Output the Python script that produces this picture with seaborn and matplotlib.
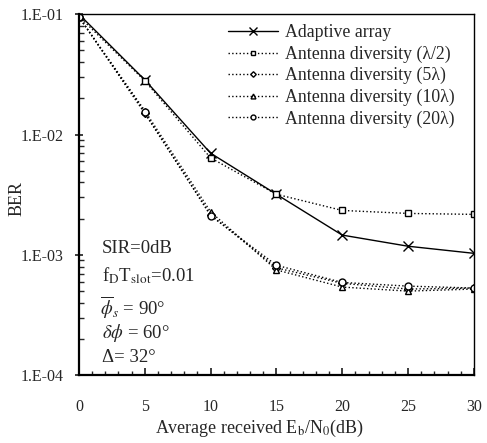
import numpy as np
import pandas as pd
import matplotlib
matplotlib.use("Agg")
import matplotlib.pyplot as plt
import seaborn as sns
from matplotlib.ticker import LogLocator, FixedLocator, MultipleLocator, FuncFormatter

# values
snr_db = [0, 5, 10, 15, 20, 25, 30]
adaptive = [0.1, 0.0285, 0.0070, 0.00319, 0.00146, 0.00118, 0.00103]
div_half = [0.096, 0.0280, 0.00640, 0.00319, 0.00234, 0.00221, 0.00217]
div_5 = [0.095, 0.0150, 0.00215, 0.00078, 0.00058, 0.00052, 0.00053]
div_10 = [0.095, 0.0158, 0.00228, 0.00075, 0.00054, 0.00050, 0.00052]
div_20 = [0.095, 0.0153, 0.00212, 0.00082, 0.00059, 0.00055, 0.00053]

series_names = ["Adaptive array", "Antenna diversity (λ/2)", "Antenna diversity (5λ)",
                "Antenna diversity (10λ)", "Antenna diversity (20λ)"]
series_values = [adaptive, div_half, div_5, div_10, div_20]

df = pd.DataFrame({
    "snr": snr_db * len(series_names),
    "ber": sum(series_values, []),
    "scheme": np.repeat(series_names, len(snr_db)),
})

sns.set_theme(style="ticks")
plt.rcParams["font.family"] = ["Liberation Serif", "DejaVu Serif"]
plt.rcParams["mathtext.fontset"] = "stix"

fig = plt.figure(figsize=(4.87, 4.43), dpi=100)
ax = fig.add_axes([0.162, 0.153, 0.811, 0.815])

styles = {
    series_names[0]: dict(ls="-", marker="x", ms=7.5),
    series_names[1]: dict(ls=":", marker="s", ms=5),
    series_names[2]: dict(ls=":", marker="D", ms=4),
    series_names[3]: dict(ls=":", marker="^", ms=5),
    series_names[4]: dict(ls=":", marker="o", ms=5),
}
for name in series_names:
    sub = df[df["scheme"] == name]
    st = styles[name]
    sns.lineplot(data=sub, x="snr", y="ber", ax=ax, color="black", lw=1.0,
                 linestyle=st["ls"], marker=st["marker"], markersize=st["ms"],
                 markerfacecolor="white", markeredgecolor="black", markeredgewidth=1.0,
                 label=name)

ax.set_yscale("log")
ax.set_ylim(1e-4, 1e-1)
ax.set_xlim(0, 30)
ax.xaxis.set_major_locator(MultipleLocator(5))
ax.xaxis.set_minor_locator(MultipleLocator(1))
ax.yaxis.set_major_locator(FixedLocator([1e-4, 1e-3, 1e-2, 1e-1]))
ax.yaxis.set_minor_locator(LogLocator(base=10, subs=np.arange(2, 10)))
ax.yaxis.set_major_formatter(FuncFormatter(lambda v, p: "1.E-%02d" % round(-np.log10(v))))
ax.tick_params(axis="y", which="major", direction="inout", length=6, labelsize=11.5, pad=8)
ax.tick_params(axis="y", which="minor", direction="in", length=3.5)
ax.tick_params(axis="x", which="major", direction="in", length=5, labelsize=11.5, pad=17)
ax.tick_params(axis="x", which="minor", direction="in", length=3)
for s in ax.spines.values():
    s.set_linewidth(1.0)
    s.set_color("black")
ax.spines["left"].set_linewidth(1.6)
ax.spines["bottom"].set_linewidth(1.6)

ax.set_xlabel("Average received E$_\\mathrm{b}$/N$_0$(dB)", fontsize=13)
ax.xaxis.set_label_coords(0.457, -0.117)
ax.set_ylabel("BER", fontsize=13)
ax.yaxis.set_label_coords(-0.134, 0.49)

ax.legend(loc="upper left", bbox_to_anchor=(0.368, 0.982), frameon=False, fontsize=12.8,
          handlelength=2.8, handletextpad=0.39, labelspacing=0.24, borderaxespad=0,
          borderpad=0.2, markerscale=0.7)

ax.text(1.75, 1.135e-3, "SIR=0dB", fontsize=13.5, va="center")
ax.text(1.75, 6.76e-4, "f$_\\mathrm{D}$T$_\\mathrm{slot}$=0.01", fontsize=13.5, va="center")
ax.text(1.6, 3.66e-4, "$\\overline{\\phi}_s$ = 90°", fontsize=13.5, va="center")
ax.text(1.75, 2.23e-4, "$\\delta\\phi$ = 60°", fontsize=13.5, va="center")
ax.text(1.75, 1.41e-4, "Δ= 32°", fontsize=13.5, va="center")

fig.savefig("out.png", dpi=100)
